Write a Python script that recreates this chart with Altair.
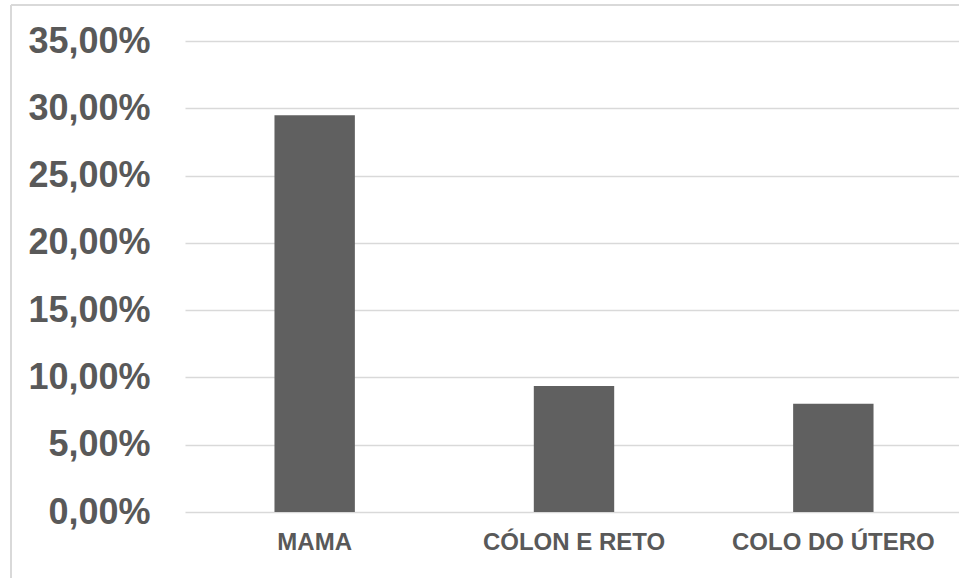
import altair as alt
import pandas as pd

categories = ["MAMA", "CÓLON E RETO", "COLO DO ÚTERO"]
values = [0.2948, 0.0936, 0.0804]

df = pd.DataFrame({"tipo": categories, "pct": values})

TEXT = "#595959"
FONT = "Liberation Sans"

bars = alt.Chart(df).mark_bar(color="#606060").encode(
    x=alt.X("tipo:N", sort=categories, title=None,
            scale=alt.Scale(paddingInner=0.69, paddingOuter=0.345, range=[0, 778]),
            axis=alt.Axis(labelAngle=0, labelFont=FONT, labelFontSize=24,
                          labelFontWeight="bold", labelColor=TEXT,
                          labelPadding=18, ticks=False, domain=False,
                          grid=False, labelBaseline="top", labelLimit=0)),
    y=alt.Y("pct:Q", title=None,
            scale=alt.Scale(domain=[0, 0.35], nice=False),
            axis=alt.Axis(values=[0, 0.05, 0.10, 0.15, 0.20, 0.25, 0.30, 0.35],
                          labelExpr="replace(format(datum.value, '.2%'), '.', ',')",
                          labelFont=FONT, labelFontSize=36, labelFontWeight="bold",
                          labelColor=TEXT, labelPadding=35, ticks=False,
                          domain=False, grid=True, gridColor="#d9d9d9",
                          gridWidth=1.5, labelLimit=0)),
)

border_left = alt.Chart(df).mark_rule(color="#d9d9d9", strokeWidth=1.5).encode(
    x=alt.value(-174), y=alt.value(-36), y2=alt.value(540)
)
border_top = alt.Chart(df).mark_rule(color="#d9d9d9", strokeWidth=1.5).encode(
    x=alt.value(-174), x2=alt.value(774), y=alt.value(-36)
)

chart = alt.layer(bars, border_left, border_top).properties(
    width=774, height=471,
    autosize=alt.AutoSizeParams(type="none"),
    padding={"left": 185, "top": 41, "right": 0, "bottom": 66},
    background="white",
).configure_view(stroke=None)

chart.save("out.html", embed_options={"renderer": "svg", "actions": False})
